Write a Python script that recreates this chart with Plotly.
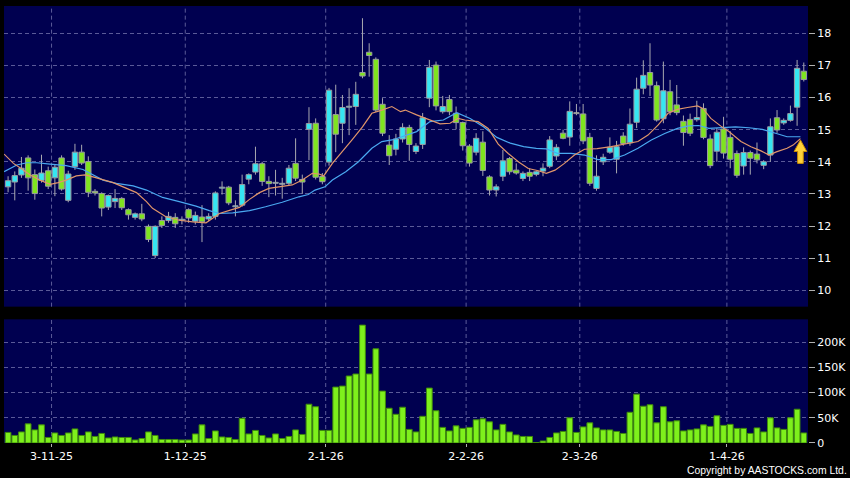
import plotly.graph_objects as go

# ---------------- data ----------------
OPEN = [13.22, 13.37, 13.59, 14.12, 13.60, 13.42, 13.72, 13.50, 14.12, 12.80,
        13.85, 14.30, 14.01, 13.08, 13.01, 12.59, 12.76, 12.86, 12.51, 12.27,
        12.38, 11.99, 11.08, 12.17, 12.17, 12.27, 12.18, 12.51, 12.15, 12.28,
        12.22, 12.30, 13.18, 13.21, 12.60, 12.65, 13.46, 13.68, 13.94, 13.39,
        13.33, 13.30, 13.33, 13.95, 13.45, 15.01, 15.20, 13.54, 13.99, 15.47,
        15.20, 15.70, 15.72, 16.78, 17.41, 17.19, 15.79, 14.52, 14.39, 14.71,
        15.07, 14.32, 14.54, 15.98, 17.01, 15.56, 15.94, 15.51, 15.22, 14.49,
        14.30, 14.61, 13.53, 13.12, 13.55, 14.10, 13.74, 13.48, 13.67, 13.61,
        13.71, 13.86, 14.18, 14.89, 14.77, 15.52, 15.49, 14.76, 13.17, 14.00,
        14.30, 14.08, 14.80, 14.59, 15.23, 16.29, 16.78, 16.37, 15.34, 16.18,
        15.77, 15.26, 15.32, 15.31, 15.66, 14.71, 14.33, 15.02, 14.76, 14.26,
        13.87, 14.29, 14.24, 13.89, 14.21, 15.37, 15.21, 15.29, 15.70, 16.82]
HIGH = [13.55, 13.70, 14.15, 14.20, 13.76, 14.22, 13.85, 13.90, 14.20, 13.72,
        14.56, 14.53, 14.17, 13.15, 13.05, 12.98, 13.15, 12.90, 12.55, 12.42,
        12.69, 12.05, 12.02, 12.30, 12.44, 12.40, 12.30, 12.55, 12.45, 12.65,
        12.40, 13.08, 13.39, 13.25, 12.80, 13.60, 13.64, 14.47, 14.00, 13.55,
        13.75, 13.50, 13.90, 14.73, 13.60, 15.70, 15.35, 13.65, 16.30, 16.40,
        16.08, 16.29, 16.49, 18.47, 17.69, 17.25, 15.98, 14.83, 14.87, 15.20,
        15.15, 14.58, 15.52, 17.17, 17.12, 16.05, 16.08, 15.72, 15.25, 14.55,
        14.89, 14.95, 13.58, 13.30, 14.37, 14.15, 13.95, 13.70, 13.80, 13.72,
        13.95, 14.80, 14.55, 15.00, 15.88, 15.80, 15.80, 14.90, 14.20, 14.25,
        14.76, 14.65, 14.92, 15.66, 16.62, 17.16, 17.69, 16.50, 17.12, 16.55,
        16.39, 15.44, 15.50, 15.90, 15.82, 14.85, 15.05, 15.40, 14.95, 14.35,
        14.45, 14.35, 14.60, 14.05, 15.35, 15.61, 15.35, 15.75, 17.17, 17.09]
LOW = [13.05, 12.80, 13.50, 13.10, 12.82, 13.35, 13.15, 12.93, 13.10, 12.74,
       13.75, 13.90, 12.90, 12.95, 12.30, 12.50, 12.56, 12.50, 12.20, 12.20,
       12.15, 11.50, 11.00, 11.94, 12.10, 11.94, 12.05, 12.10, 12.05, 11.50,
       12.15, 12.20, 12.98, 12.65, 12.30, 12.60, 13.30, 13.60, 13.25, 12.90,
       12.95, 12.85, 13.25, 13.40, 13.00, 14.05, 13.45, 13.30, 13.88, 14.30,
       14.58, 14.83, 15.15, 16.60, 16.65, 15.55, 14.80, 13.90, 14.20, 14.60,
       14.03, 14.24, 14.40, 15.70, 15.60, 15.50, 15.45, 15.01, 14.35, 13.85,
       14.20, 13.56, 12.95, 12.92, 13.40, 13.60, 13.60, 13.40, 13.40, 13.55,
       13.55, 13.80, 14.05, 14.70, 14.50, 15.45, 14.55, 13.25, 13.10, 13.90,
       14.25, 13.64, 14.50, 14.50, 15.05, 16.10, 16.05, 15.25, 15.20, 15.45,
       15.45, 14.50, 14.80, 15.25, 14.70, 13.80, 14.00, 14.10, 13.80, 13.50,
       13.60, 13.60, 13.95, 13.77, 14.00, 14.90, 15.15, 15.25, 15.12, 16.50]
CLOSE = [13.41, 13.57, 13.80, 13.50, 13.01, 13.65, 13.24, 13.83, 13.15, 13.62,
         14.30, 13.96, 13.05, 13.03, 12.56, 12.95, 12.86, 12.57, 12.35, 12.38,
         12.22, 11.58, 11.99, 12.02, 12.30, 12.07, 12.20, 12.25, 12.33, 12.13,
         12.30, 13.03, 13.20, 12.72, 12.62, 13.29, 13.60, 13.94, 13.39, 13.32,
         13.35, 13.30, 13.80, 13.49, 13.37, 15.19, 13.52, 13.38, 16.23, 14.86,
         15.69, 15.73, 16.10, 16.67, 17.31, 15.61, 14.89, 14.19, 14.71, 15.07,
         14.54, 14.49, 15.37, 16.94, 15.74, 15.72, 15.56, 15.22, 14.50, 13.96,
         14.73, 13.73, 13.12, 13.22, 14.03, 13.69, 13.65, 13.64, 13.55, 13.69,
         13.80, 14.68, 14.45, 14.73, 15.57, 15.50, 14.65, 13.33, 13.55, 14.14,
         14.45, 14.47, 14.57, 15.17, 16.26, 16.69, 16.39, 15.30, 16.21, 15.56,
         15.53, 14.91, 14.89, 15.38, 14.76, 13.88, 14.92, 14.27, 14.08, 13.58,
         14.29, 14.11, 14.06, 14.00, 15.09, 14.99, 15.29, 15.50, 16.91, 16.56]
VOLUME_K = [21, 15, 22, 38, 26, 36, 11, 20, 15, 20,
            28, 15, 22, 13, 19, 10, 12, 11, 11, 6,
            9, 22, 15, 7, 7, 7, 6, 6, 18, 36,
            9, 24, 12, 11, 7, 49, 18, 25, 15, 10,
            18, 9, 13, 26, 17, 77, 72, 25, 25, 111,
            113, 133, 137, 234, 137, 187, 103, 69, 57, 71,
            27, 22, 53, 109, 64, 31, 24, 34, 29, 31,
            46, 48, 42, 26, 37, 22, 16, 13, 13, 1,
            4, 11, 20, 23, 50, 21, 32, 40, 30, 26,
            26, 23, 19, 61, 97, 73, 76, 40, 72, 42,
            44, 24, 26, 28, 36, 33, 54, 35, 37, 29,
            29, 19, 30, 22, 50, 30, 27, 50, 67, 20]

# moving averages (bar index, value)
MA_FAST_X = [-0.6, 0.8, 1.9, 3.3, 4.75, 6.3, 7.5, 8.7, 10.2, 11.5,
             12.7, 14.2, 15.7, 17.2, 19.2, 20.7, 21.6, 23.6, 25.6, 27.6,
             29.6, 30.6, 31.6, 33.6, 34.6, 36.1, 37.6, 39.0, 41.0, 42.5,
             44.0, 45.5, 46.5, 47.2, 48.5, 50.0, 51.5, 53.0, 54.4, 55.9,
             57.4, 58.7, 59.4, 61.1, 63.1, 64.6, 66.1, 67.3, 68.3, 70.3,
             71.8, 73.3, 74.8, 76.3, 77.8, 79.3, 80.5, 81.8, 83.2, 84.7,
             86.2, 88.1, 90.2, 92.2, 94.2, 95.7, 97.2, 98.7, 100.1, 101.6,
             103.1, 103.9, 105.1, 106.6, 107.8, 109.6, 111.1, 112.6, 113.8, 114.9,
             116.5, 117.4, 118.5]
MA_FAST = [14.24, 13.95, 13.80, 13.59, 13.43, 13.30, 13.35, 13.43, 13.56, 13.59,
           13.53, 13.43, 13.35, 13.22, 13.04, 12.76, 12.55, 12.29, 12.18, 12.13,
           12.10, 12.24, 12.39, 12.52, 12.58, 12.83, 13.04, 13.17, 13.24, 13.28,
           13.43, 13.64, 13.62, 13.56, 13.95, 14.31, 14.70, 15.09, 15.51, 15.61,
           15.72, 15.56, 15.61, 15.46, 15.30, 15.18, 15.20, 15.35, 15.30, 15.25,
           15.04, 14.55, 14.26, 14.00, 13.79, 13.72, 13.64, 13.74, 13.95, 14.21,
           14.39, 14.41, 14.47, 14.54, 14.63, 14.83, 15.14, 15.51, 15.63, 15.69,
           15.74, 15.66, 15.35, 15.11, 14.94, 14.63, 14.47, 14.34, 14.21, 14.31,
           14.42, 14.52, 14.72]
MA_SLOW_X = [-0.6, 1.3, 2.8, 4.3, 6.3, 8.7, 11.2, 12.7, 14.2, 16.2,
             18.7, 20.7, 23.1, 25.6, 28.1, 30.1, 31.6, 33.6, 36.1, 38.5,
             41.0, 43.5, 44.9, 45.9, 47.4, 48.5, 50.5, 52.4, 54.4, 55.9,
             57.4, 58.9, 61.1, 63.1, 65.1, 67.1, 69.1, 71.1, 73.1, 75.1,
             77.1, 79.0, 80.5, 82.2, 84.2, 86.2, 88.2, 90.2, 92.2, 94.2,
             96.2, 98.2, 100.1, 101.8, 103.3, 104.8, 106.8, 108.8, 110.8, 112.8,
             114.9, 116.5, 118.5]
MA_SLOW = [13.69, 13.90, 13.97, 13.97, 13.93, 13.88, 13.76, 13.59, 13.43, 13.33,
           13.25, 13.12, 12.89, 12.76, 12.62, 12.48, 12.39, 12.41, 12.48, 12.60,
           12.74, 12.91, 12.98, 13.12, 13.22, 13.43, 13.69, 14.00, 14.42, 14.63,
           14.68, 14.78, 14.94, 15.25, 15.30, 15.53, 15.35, 15.09, 14.76, 14.58,
           14.47, 14.42, 14.40, 14.26, 14.26, 14.21, 14.07, 14.07, 14.21, 14.42,
           14.68, 14.88, 15.04, 15.12, 15.13, 15.04, 15.07, 15.09, 15.06, 15.01,
           14.88, 14.78, 14.78]

# date labels: index of the labelled trading day in the bar sequence
DATE_LABELS = ["3-11-25", "1-12-25", "2-1-26", "2-2-26", "2-3-26", "1-4-26"]
DATE_BARS = [7, 27, 48, 69, 86, 108]

PRICE_TICKS = [10, 11, 12, 13, 14, 15, 16, 17, 18]
VOL_TICKS = [0, 50000, 100000, 150000, 200000]
VOL_TICK_TEXT = ["0", "50K", "100K", "150K", "200K"]

# signal arrow (bar position, tip / shoulder / base price)
ARROW_BAR = 118.5
ARROW_TIP, ARROW_SHOULDER, ARROW_BASE = 14.68, 14.32, 13.95

# ---------------- styles ----------------
UP = "#36e6f2"
DOWN = "#7fe41f"
OUTLINE = "#9a9aa0"
VOL_COLOR = "#7ef01c"
NAVY = "#000050"
GRID = "#5a5a98"
FONT = "DejaVu Sans"

n = len(OPEN)
idx = list(range(n))
body_lo = [min(o, c) for o, c in zip(OPEN, CLOSE)]
body_hi = [max(o, c) for o, c in zip(OPEN, CLOSE)]
body_h = [max(h - l, 0.03) for h, l in zip(body_hi, body_lo)]
colors = [UP if c >= o else DOWN for o, c in zip(OPEN, CLOSE)]

wx, wy = [], []
for i in idx:
    wx += [i, i, None, i, i, None]
    wy += [body_hi[i], HIGH[i], None, LOW[i], body_lo[i], None]

fig = go.Figure()
fig.add_trace(go.Scatter(x=wx, y=wy, mode="lines", line=dict(color="#a8a8b0", width=1),
                         hoverinfo="skip", xaxis="x", yaxis="y"))
fig.add_trace(go.Bar(x=idx, y=body_h, base=body_lo, width=0.8,
                     marker=dict(color=colors, line=dict(color=OUTLINE, width=1)),
                     xaxis="x", yaxis="y"))
fig.add_trace(go.Scatter(x=MA_SLOW_X, y=MA_SLOW, mode="lines",
                         line=dict(color="#4aa8f0", width=1.2), xaxis="x", yaxis="y"))
fig.add_trace(go.Scatter(x=MA_FAST_X, y=MA_FAST, mode="lines",
                         line=dict(color="#e0956a", width=1.2), xaxis="x", yaxis="y"))
fig.add_trace(go.Bar(x=idx, y=[v * 1000 for v in VOLUME_K], width=0.86,
                     marker=dict(color=VOL_COLOR, line=dict(color="#3f8a0c", width=1)),
                     xaxis="x2", yaxis="y2"))

XR = [-0.61, 119.63]
grid_pos = [b - 0.5 for b in DATE_BARS]

shapes = []
for g in grid_pos:
    for xr, yr in (("x", "y domain"), ("x2", "y2 domain")):
        shapes.append(dict(type="line", xref=xr, yref=yr, x0=g, x1=g, y0=0, y1=1,
                           layer="below", line=dict(color=GRID, width=1, dash="4px,3px")))

a, sw, hw = ARROW_BAR, 0.42, 0.95
path = (f"M {a-sw},{ARROW_BASE} L {a-sw},{ARROW_SHOULDER} L {a-hw},{ARROW_SHOULDER} "
        f"L {a},{ARROW_TIP} L {a+hw},{ARROW_SHOULDER} L {a+sw},{ARROW_SHOULDER} "
        f"L {a+sw},{ARROW_BASE} Z")
shapes.append(dict(type="path", xref="x", yref="y", path=path, layer="above",
                   fillcolor="#ffd23a", line=dict(color="#c88a00", width=1)))

tickfont = dict(family=FONT, size=11, color="#ffffff")
fig.update_layout(
    width=850, height=478,
    margin=dict(l=4, r=39, t=6, b=35),
    paper_bgcolor="#000000", plot_bgcolor=NAVY,
    showlegend=False, barmode="overlay",
    font=dict(family=FONT, color="#ffffff"),
    xaxis=dict(domain=[0, 1], anchor="y", range=XR, showticklabels=False,
               showgrid=False, zeroline=False, ticks="", showline=False),
    yaxis=dict(domain=[0.312, 1], anchor="x", range=[9.49, 18.85], side="right",
               tickvals=PRICE_TICKS, showgrid=True, gridcolor=GRID, griddash="4px,3px",
               gridwidth=1, zeroline=False, ticks="outside", ticklen=6,
               tickcolor="#b0b0b0", tickfont=tickfont, showline=False),
    xaxis2=dict(domain=[0, 1], anchor="y2", range=XR, matches="x",
                tickvals=grid_pos, ticktext=DATE_LABELS, showgrid=False,
                zeroline=False, ticks="outside", ticklen=3, tickcolor="#b0b0b0",
                tickfont=tickfont, showline=False),
    yaxis2=dict(domain=[0, 0.283], anchor="x2", range=[0, 245500], side="right",
                tickvals=VOL_TICKS, ticktext=VOL_TICK_TEXT, showgrid=True,
                gridcolor=GRID, griddash="4px,3px", gridwidth=1, zeroline=False,
                ticks="outside", ticklen=6, tickcolor="#b0b0b0", tickfont=tickfont,
                showline=False),
    shapes=shapes,
    annotations=[dict(text="Copyright by AASTOCKS.com Ltd.", xref="paper", yref="paper",
                      x=1.042, y=-0.062, xanchor="right", yanchor="middle",
                      xshift=7, showarrow=False,
                      font=dict(family="Liberation Sans", size=10.4, color="#ffffff"))],
)

fig.write_html(
    "out.html",
    config={"displayModeBar": False},
    post_script="document.body.style.margin='0';document.body.style.background='#000';",
)
